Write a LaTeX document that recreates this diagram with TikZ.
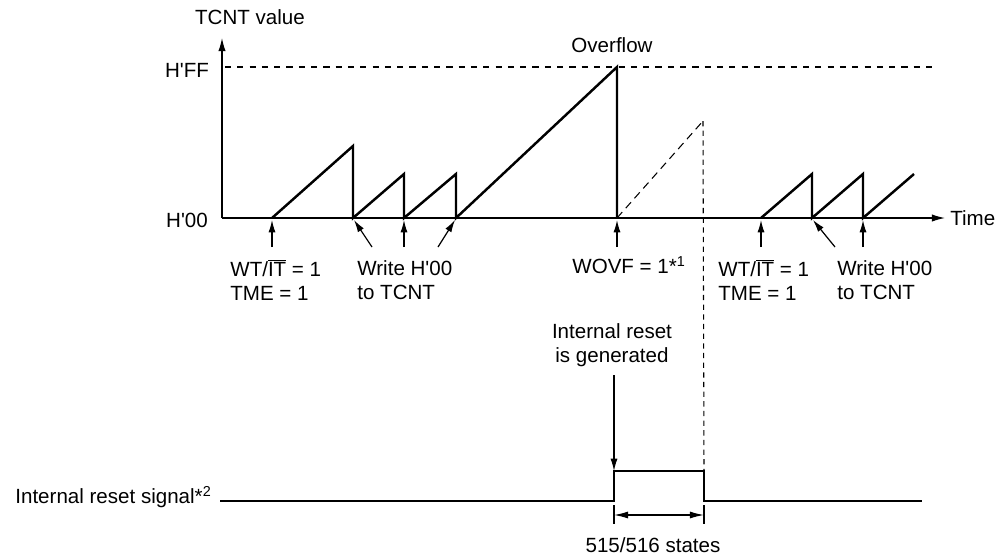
\documentclass[tikz,border=0pt]{standalone}
\usepackage{fontspec}
\setmainfont{Liberation Sans}
\usetikzlibrary{arrows.meta}
\newcommand{\hq}{\textquotesingle}
\newcommand{\wtit}{WT/$\overline{\mbox{IT}}$ = 1}
\begin{document}
\begin{tikzpicture}[
    x=0.02cm, y=-0.02cm,
    every node/.style={font=\fontsize{11.7}{13.8}\selectfont, inner sep=0pt},
    axis/.style={-{Latex[length=7.5pt,width=4.2pt]}, line width=0.7pt},
    pointer/.style={-{Latex[length=7pt,width=4pt]}, line width=0.7pt},
    saw/.style={line width=1.4pt},
    level/.style={line width=0.6pt, dash pattern=on 3.5pt off 3.5pt},
    ghost/.style={line width=0.6pt, dash pattern=on 4.5pt off 3pt},
    signal/.style={line width=0.7pt},
    note/.style={align=left, anchor=west}
]
\useasboundingbox (0,0) rectangle (1008,556);

% Axes
\coordinate (o) at (222,218);
\coordinate (ytip) at (222,38);
\coordinate (xtip) at (945,218);
\draw[axis] (o) -- (ytip);
\draw[axis] (o) -- (xtip);
\node (tcnt) at (250,17) {TCNT value};
\node[anchor=west] (time) at (950,218) {Time};
\node (hff) at (187,70) {H\hq FF};
\node (h00) at (187,220) {H\hq 00};

% Overflow level
\coordinate (ffl) at (225,67);
\coordinate (ffr) at (935,67);
\draw[level] (ffl) -- (ffr);
\node (ovf) at (612,45) {Overflow};

% Counter
\draw[saw] (272,218) -- (353,146) -- (353,218) -- (404,174) -- (404,218)
    -- (456,174) -- (456,218) -- (617,67) -- (617,218);
\draw[saw] (761,218) -- (812,174) -- (812,218) -- (863,174) -- (863,218)
    -- (914,174);
\coordinate (wov) at (617,218);
\coordinate (peak) at (703,121);
\draw[ghost] (wov) -- (peak);

% Events
\coordinate (e1) at (272,220);   \coordinate (f1) at (272,247);
\coordinate (e2) at (354,220);   \coordinate (f2) at (372,247);
\coordinate (e3) at (404,220);   \coordinate (f3) at (404,247);
\coordinate (e4) at (455,220);   \coordinate (f4) at (438,247);
\coordinate (e5) at (617,220);   \coordinate (f5) at (617,247);
\coordinate (e6) at (761,220);   \coordinate (f6) at (761,247);
\coordinate (e7) at (813,220);   \coordinate (f7) at (835,247);
\coordinate (e8) at (863,220);   \coordinate (f8) at (863,247);
\draw[pointer] (f1) -- (e1);
\draw[pointer] (f2) -- (e2);
\draw[pointer] (f3) -- (e3);
\draw[pointer] (f4) -- (e4);
\draw[pointer] (f5) -- (e5);
\draw[pointer] (f6) -- (e6);
\draw[pointer] (f7) -- (e7);
\draw[pointer] (f8) -- (e8);

\node[note] (start1) at (230,280) {\wtit\\TME = 1};
\node[note] (write1) at (357,280) {Write H\hq 00\\to TCNT};
\node[note] (wovf) at (572,265) {WOVF = 1*\textsuperscript{1}};
\node[note] (start2) at (718,280) {\wtit\\TME = 1};
\node[note] (write2) at (837,280) {Write H\hq 00\\to TCNT};

% Reset signal
\node[align=center] (gen) at (612,345) {Internal reset\\is generated};
\node[anchor=east] (sig) at (212,497) {Internal reset signal*\textsuperscript{2}};
\coordinate (rise) at (614,471);
\coordinate (fall) at (704,471);
\coordinate (genarr) at (614,375);
\draw[signal] (220,501) -- (614,501) -- (rise) -- (fall) -- (704,501) -- (922,501);
\draw[pointer] (genarr) -- (rise);
\draw[ghost, dash pattern=on 3pt off 2.5pt] (peak) -- (fall);

% Reset width
\coordinate (w1) at (614,515);
\coordinate (w2) at (704,515);
\draw[signal] (614,505) -- (614,524);
\draw[signal] (704,505) -- (704,524);
\draw[{Latex[length=8pt,width=4pt]}-{Latex[length=8pt,width=4pt]}, signal] (w1) -- (w2);
\node (states) at (653,545) {515/516 states};

\end{tikzpicture}
\end{document}
